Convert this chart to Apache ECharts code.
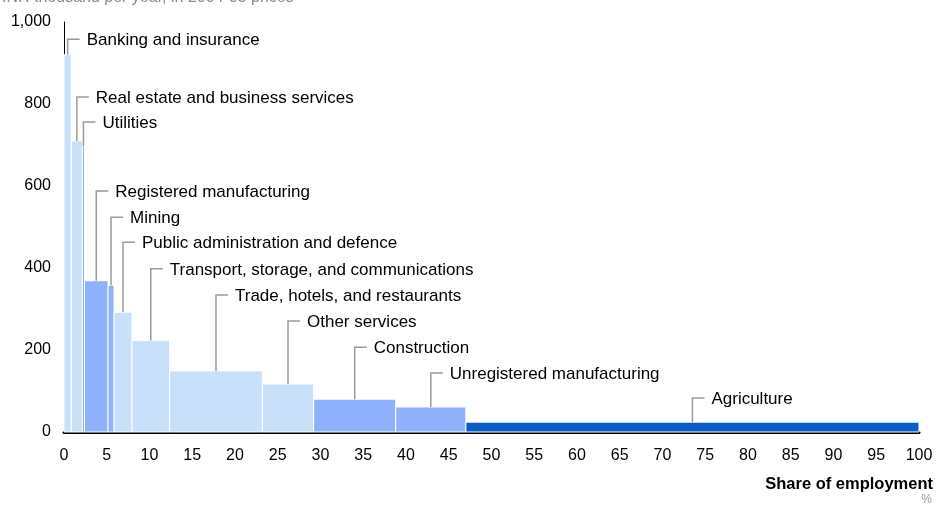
<!DOCTYPE html>
<html>
<head>
<meta charset="utf-8">
<script src="https://cdn.jsdelivr.net/npm/echarts@6/dist/echarts.min.js"></script>
<style>
  html, body { margin: 0; padding: 0; background: #fff; }
  #chart { width: 936px; height: 505px; }
</style>
</head>
<body>
<div id="chart"></div>
<script>
// sectors, left to right
const sectors = [
  'Banking and insurance', 'Real estate and business services', 'Utilities',
  'Registered manufacturing', 'Mining', 'Public administration and defence',
  'Transport, storage, and communications', 'Trade, hotels, and restaurants',
  'Other services', 'Construction', 'Unregistered manufacturing', 'Agriculture'
];
// share of employment, %
const shares = [0.85, 1.3, 0.25, 2.75, 0.7, 2.1, 4.4, 10.85, 6.0, 9.6, 8.2, 53.0];
// output per worker, INR thousand per year
const productivity = [920, 710, 697, 369, 358, 292, 223, 149, 117, 80, 61, 24];
// sector group (colour)
const groups = ['services', 'services', 'industry', 'industry', 'industry', 'services',
  'services', 'services', 'services', 'industry', 'industry', 'agriculture'];
// height of each label's leader (in y units)
const labelLevels = [958, 817, 756, 588, 524, 463, 398, 334, 271, 207, 144, 83];
const xTicks = [0, 100, 5];
const yTicks = [0, 1000, 200];

const colors = { services: '#c9e0fa', industry: '#8fb0fb', agriculture: '#0a5cc8' };

// build bar table: [start, end, value, index]
let acc = 0;
const bars = shares.map((s, i) => {
  const row = [acc, acc + s, productivity[i], i];
  acc += s;
  return row;
});

const chart = echarts.init(document.getElementById('chart'));
const font = 'Liberation Sans, Arial, sans-serif';

chart.setOption({
  animation: false,
  grid: { left: 64, right: 17, top: 22, bottom: 73 },
  xAxis: {
    type: 'value', min: xTicks[0], max: xTicks[1], interval: xTicks[2],
    axisLine: { show: true, onZero: false, lineStyle: { color: '#000', width: 3 } },
    axisTick: { show: false },
    splitLine: { show: false },
    axisLabel: { color: '#000', fontSize: 16, fontFamily: font, margin: 16 }
  },
  yAxis: {
    type: 'value', min: yTicks[0], max: yTicks[1], interval: yTicks[2],
    axisLine: { show: true, lineStyle: { color: '#000', width: 1 } },
    axisTick: { show: false },
    splitLine: { show: false },
    axisLabel: {
      color: '#000', fontSize: 16, fontFamily: font, margin: 13,
      formatter: v => String(v).replace(/\B(?=(\d{3})+(?!\d))/g, ',')
    }
  },
  graphic: [
    { type: 'text', left: 2, top: -10,
      style: { text: 'INR thousand per year, in 2004-05 prices', fill: '#8c8c8c', font: '16px ' + font } },
    { type: 'text', right: 3, top: 476,
      style: { text: 'Share of employment', fill: '#000', font: 'bold 16.5px ' + font } },
    { type: 'text', right: 4, top: 494,
      style: { text: '%', fill: '#999', font: '12px ' + font } }
  ],
  series: [{
    type: 'custom',
    data: bars,
    encode: { x: [0, 1], y: 2 },
    renderItem: function (params, api) {
      const i = api.value(3);
      const x0 = api.value(0), x1 = api.value(1), v = api.value(2);
      const p0 = api.coord([x0, v]);
      const p1 = api.coord([x1, 0]);
      const cx = api.coord([(x0 + x1) / 2, v]);
      const ly = api.coord([0, labelLevels[i]])[1];
      return {
        type: 'group',
        children: [
          { type: 'rect',
            shape: { x: p0[0], y: p0[1], width: p1[0] - p0[0], height: p1[1] - p0[1] },
            style: { fill: colors[groups[i]], stroke: '#fff', lineWidth: 1 } },
          { type: 'polyline',
            shape: { points: [[cx[0], cx[1]], [cx[0], ly], [cx[0] + 12, ly]] },
            style: { stroke: '#9a9a9a', lineWidth: 1.5, fill: null } },
          { type: 'text',
            style: { text: sectors[i], x: cx[0] + 19, y: ly + 1, verticalAlign: 'middle',
              fill: '#000', font: '17px ' + font } }
        ]
      };
    }
  }]
});
</script>
</body>
</html>
